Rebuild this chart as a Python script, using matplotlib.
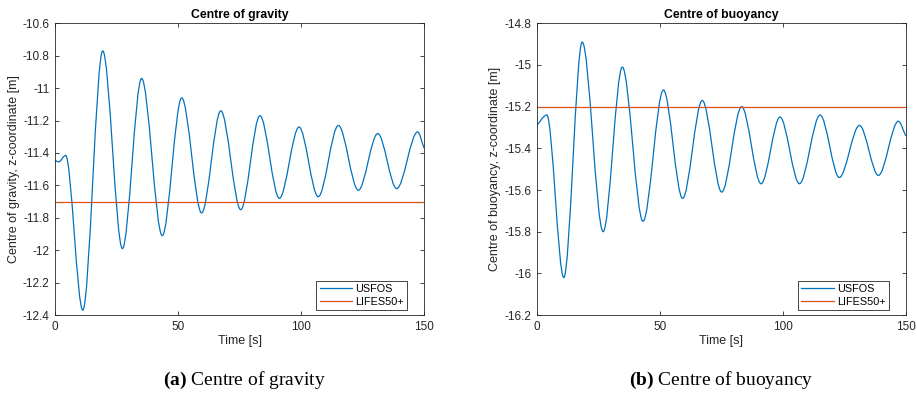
import numpy as np
import matplotlib
matplotlib.use("Agg")
import matplotlib.pyplot as plt
from matplotlib.path import Path
from matplotlib.patches import PathPatch
from matplotlib.lines import Line2D
from matplotlib.ticker import FixedLocator, FuncFormatter

# turning points (time [s], z [m])
cog_t = [0, 1.5, 4.3, 11.3, 19.4, 27.4, 35.2, 43.6, 51.5, 59.6, 67.4, 75.5,
         83.3, 91.2, 99.2, 107.0, 115.2, 123.3, 131.2, 138.9, 147.4, 150]
cog_z = [-11.445, -11.455, -11.415, -12.37, -10.77, -11.99, -10.94, -11.91,
         -11.06, -11.77, -11.14, -11.75, -11.17, -11.68, -11.24, -11.67,
         -11.23, -11.63, -11.28, -11.62, -11.27, -11.37]
cog_lifes = -11.70

cob_t = [0, 4.1, 11.0, 18.5, 27.0, 34.8, 43.2, 51.5, 59.3, 67.3, 75.2, 83.3,
         91.2, 98.9, 106.8, 115.2, 123.0, 131.2, 138.9, 147.0, 150]
cob_z = [-15.29, -15.24, -16.02, -14.89, -15.80, -15.01, -15.75, -15.12,
         -15.64, -15.17, -15.61, -15.20, -15.57, -15.25, -15.57, -15.24,
         -15.54, -15.29, -15.53, -15.27, -15.34]
cob_lifes = -15.20

cog_ticks = [-12.4, -12.2, -12, -11.8, -11.6, -11.4, -11.2, -11, -10.8, -10.6]
cob_ticks = [-16.2, -16, -15.8, -15.6, -15.4, -15.2, -15, -14.8]
time_ticks = [0, 50, 100, 150]

BLUE = "#0072BD"
ORANGE = "#D95319"
GREY = "#262626"

plt.rcParams["font.family"] = ["Liberation Sans", "DejaVu Sans"]
plt.rcParams["axes.unicode_minus"] = False
plt.rcParams["mathtext.fontset"] = "custom"
plt.rcParams["mathtext.rm"] = "Liberation Serif"
plt.rcParams["mathtext.bf"] = "Liberation Serif:bold"


def smooth_path(t, z):
    # cubic bezier through the turning points, flat at each extremum
    verts = [(t[0], z[0])]
    codes = [Path.MOVETO]
    n = len(t)
    for i in range(n - 1):
        dt = t[i + 1] - t[i]
        if i == 0:
            c1 = (t[i] + dt / 3, z[i] + (z[i + 1] - z[i]) / 3)
        else:
            c1 = (t[i] + dt / 3, z[i])
        if i == n - 2:
            c2 = (t[i + 1] - dt / 3, z[i + 1] + (z[i] - z[i + 1]) / 3)
        else:
            c2 = (t[i + 1] - dt / 3, z[i + 1])
        verts += [c1, c2, (t[i + 1], z[i + 1])]
        codes += [Path.CURVE4] * 3
    return Path(verts, codes)


def draw_panel(ax, t, z, lifes, yticks, title, ylabel):
    ax.add_patch(PathPatch(smooth_path(t, z), fill=False, edgecolor=BLUE, lw=0.9))
    ax.axhline(lifes, color=ORANGE, lw=0.9)
    ax.set_xlim(0, 150)
    ax.set_ylim(yticks[0], yticks[-1])
    ax.xaxis.set_major_locator(FixedLocator(time_ticks))
    ax.yaxis.set_major_locator(FixedLocator(yticks))
    ax.yaxis.set_major_formatter(FuncFormatter(lambda v, p: "%g" % round(v, 2)))
    ax.tick_params(direction="in", length=3, width=0.6, top=True, right=True,
                   labelsize=8.5, colors=GREY, pad=4)
    for s in ax.spines.values():
        s.set_color(GREY)
        s.set_linewidth(0.6)
    ax.set_title(title, fontsize=8.8, fontweight="bold", color="black", pad=4)
    ax.set_xlabel("Time [s]", fontsize=9, color=GREY, labelpad=2)
    ax.set_ylabel(ylabel, fontsize=9, color=GREY, labelpad=2)
    handles = [Line2D([], [], color=BLUE, lw=0.9), Line2D([], [], color=ORANGE, lw=0.9)]
    leg = ax.legend(handles, ["USFOS", "LIFES50+"], loc="lower right",
                    bbox_to_anchor=(0.954, 0.017), borderaxespad=0,
                    fontsize=7.8, handlelength=3.0, fancybox=False,
                    framealpha=1, edgecolor=GREY, borderpad=0.3,
                    labelspacing=0.25, handletextpad=0.3)
    leg.get_frame().set_linewidth(0.6)


fig = plt.figure(figsize=(9.17, 3.96), dpi=100)
ax1 = fig.add_axes([0.060, 0.2045, 0.4024, 0.7366])
ax2 = fig.add_axes([0.5853, 0.2045, 0.4024, 0.7366])

draw_panel(ax1, cog_t, cog_z, cog_lifes, cog_ticks, "Centre of gravity",
           "Centre of gravity, z-coordinate [m]")
draw_panel(ax2, cob_t, cob_z, cob_lifes, cob_ticks, "Centre of buoyancy",
           "Centre of buoyancy, z-coordinate [m]")

fig.text(0.266, 0.04, r"$\mathbf{(a)}$ Centre of gravity", ha="center", va="center",
         fontsize=14, family="Liberation Serif")
fig.text(0.786, 0.04, r"$\mathbf{(b)}$ Centre of buoyancy", ha="center", va="center",
         fontsize=14, family="Liberation Serif")

fig.savefig("out.png", dpi=100)
